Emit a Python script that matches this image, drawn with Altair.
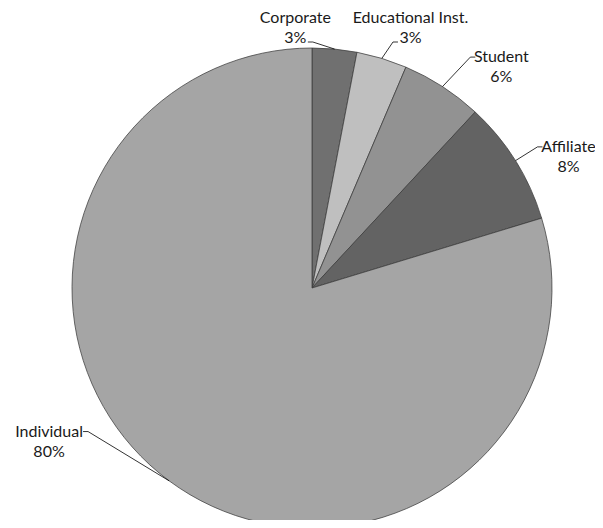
import altair as alt
import pandas as pd

# ---- data ----
categories = ["Corporate", "Educational Inst.", "Student", "Affiliate", "Individual"]
shares = [3.0, 3.4, 5.5, 8.4, 79.7]
pct_labels = ["3%", "3%", "6%", "8%", "80%"]
slice_colors = ["#707070", "#bfbfbf", "#929292", "#636363", "#a5a5a5"]

# label layout tweaks (angular nudge in degrees, radius override in px)
label_nudge_deg = {"Corporate": -5.2, "Educational Inst.": 1.3,
                   "Student": 1.5, "Individual": 20.8}
label_radius = {"Student": 280}

CX, CY, R = 304, 280, 240
R_SIDE, TOP_Y = 266, 246
LH = 20
FONT = "Lato"
FS = 16

df = pd.DataFrame({
    "category": categories,
    "value": shares,
    "pct": pct_labels,
    "order": list(range(len(categories))),
})

nudge_expr = "0"
for k, v in label_nudge_deg.items():
    nudge_expr = f"(datum.category === '{k}' ? {v} : {nudge_expr})"
radius_expr = str(R_SIDE)
for k, v in label_radius.items():
    radius_expr = f"(datum.category === '{k}' ? {v} : {radius_expr})"

base = alt.Chart(df)

pie = base.mark_arc(outerRadius=R, stroke="#3c3c3c", strokeWidth=0.75).encode(
    theta=alt.Theta("value:Q", stack=True),
    order=alt.Order("order:Q", sort="ascending"),
    color=alt.Color("category:N",
                    scale=alt.Scale(domain=categories, range=slice_colors),
                    legend=None),
    x=alt.value(CX),
    y=alt.value(CY),
)

geo = base.transform_window(
    cum="sum(value)",
    sort=[alt.SortField("order", order="ascending")],
    frame=[None, 0],
).transform_joinaggregate(
    total="sum(value)"
).transform_calculate(
    m="(datum.cum - datum.value/2) / datum.total * 2 * PI",
).transform_calculate(
    a=f"datum.m + {nudge_expr} * PI / 180",
    rs=radius_expr,
).transform_calculate(
    istop="cos(datum.a) > 0.9 ? 1 : 0",
    ex=f"{CX} + {R} * sin(datum.m)",
    ey=f"{CY} - {R} * cos(datum.m)",
).transform_calculate(
    ax=f"datum.istop ? {CX} + {TOP_Y} * tan(datum.a) : {CX} + datum.rs * sin(datum.a)",
    ay=f"datum.istop ? {CY} - {TOP_Y} : {CY} - datum.rs * cos(datum.a)",
).transform_calculate(
    dirx="datum.ax >= datum.ex ? 1 : -1",
    narrow="length(datum.category) - length(replace(datum.category, regexp('[ilfjtI. ]', 'g'), ''))",
).transform_calculate(
    sx="datum.ax + datum.dirx * 5",
    wl="datum.istop ? length(datum.pct) * 10.5 : length(datum.category) * 8 - datum.narrow * 4",
).transform_calculate(
    tx="datum.sx + datum.dirx * (2 + datum.wl / 2)",
    ny=f"datum.istop ? datum.ay - 4 - {LH} : datum.ay",
).transform_calculate(
    py=f"datum.ny + {LH}",
)

leader1 = geo.mark_rule(color="#000000", strokeWidth=0.8).encode(
    x=alt.X("ex:Q", scale=None, axis=None),
    y=alt.Y("ey:Q", scale=None, axis=None),
    x2="ax:Q",
    y2="ay:Q",
)
leader2 = geo.mark_rule(color="#000000", strokeWidth=0.8).encode(
    x=alt.X("ax:Q", scale=None, axis=None),
    y=alt.Y("ay:Q", scale=None, axis=None),
    x2="sx:Q",
    y2="ay:Q",
)
names = geo.mark_text(font=FONT, fontSize=FS, color="#1a1a1a",
                      align="center", baseline="middle").encode(
    x=alt.X("tx:Q", scale=None, axis=None),
    y=alt.Y("ny:Q", scale=None, axis=None),
    text="category:N",
)
pcts = geo.mark_text(font=FONT, fontSize=FS, color="#1a1a1a",
                     align="center", baseline="middle").encode(
    x=alt.X("tx:Q", scale=None, axis=None),
    y=alt.Y("py:Q", scale=None, axis=None),
    text="pct:N",
)

chart = alt.layer(pie, leader1, leader2, names, pcts).properties(
    width=587, height=512, padding=0, autosize="none",
    background="white",
).configure_view(stroke=None)

chart.save("out.html", embed_options={"renderer": "svg", "actions": False})
